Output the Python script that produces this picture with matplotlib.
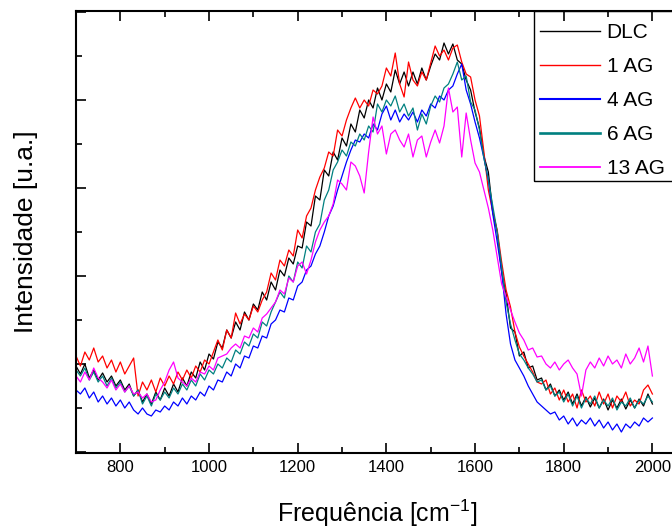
import numpy as np
import matplotlib
matplotlib.use("Agg")
import matplotlib.pyplot as plt
from matplotlib.patches import Rectangle
from matplotlib.ticker import MultipleLocator, NullFormatter

plt.rcParams['font.family'] = ['Liberation Sans', 'DejaVu Sans']
plt.rcParams['mathtext.default'] = 'regular'

# frequência (cm-1), um ponto a cada 10
freq = np.arange(700, 2001, 10)

dlc = [86, 78, 88, 74, 82, 72, 79, 70, 76, 66, 72, 62, 68, 56, 62, 50, 58, 48, 60, 52,
       64, 56, 68, 60, 74, 66, 80, 74, 90, 82, 98, 93, 110, 104, 122, 114, 130, 122, 140, 132,
       148, 142, 160, 152, 170, 162, 182, 176, 194, 188, 206, 204, 230, 226, 256, 252, 282, 276, 300, 292,
       314, 306, 328, 320, 342, 334, 352, 344, 364, 352, 368, 360, 382, 368, 380, 366, 380, 368, 384, 372,
       386, 398, 392, 409, 398, 408, 392, 388, 372, 362, 340, 324, 296, 280, 240, 220, 180, 158, 124, 120,
       96, 100, 84, 86, 72, 74, 62, 68, 56, 62, 52, 60, 48, 58, 46, 55, 45, 54, 44, 53,
       42, 52, 44, 53, 43, 52, 44, 53, 46, 58, 48]

ag1 = [96, 86, 100, 92, 104, 90, 96, 84, 92, 80, 90, 78, 86, 94, 56, 70, 62, 72, 60, 74,
       66, 76, 68, 80, 72, 82, 74, 86, 80, 92, 88, 100, 112, 102, 122, 114, 139, 128, 138, 132,
       146, 140, 152, 160, 179, 172, 192, 186, 202, 196, 222, 214, 236, 244, 262, 275, 284, 300, 296, 322,
       316, 332, 344, 354, 344, 352, 346, 362, 358, 366, 384, 376, 399, 368, 355, 390, 372, 366, 380, 372,
       389, 406, 396, 402, 392, 404, 407, 390, 378, 375, 352, 336, 300, 262, 240, 222, 190, 162, 145, 120,
       105, 96, 88, 80, 70, 68, 72, 58, 64, 52, 62, 50, 58, 44, 62, 50, 56, 46, 60, 48,
       58, 44, 56, 50, 60, 46, 52, 48, 62, 67, 58]

ag4 = [62, 58, 64, 54, 60, 50, 56, 48, 54, 46, 52, 44, 50, 42, 38, 44, 38, 36, 42, 40,
       46, 42, 50, 46, 54, 48, 56, 52, 60, 56, 66, 62, 72, 70, 80, 76, 88, 84, 96, 94,
       106, 104, 116, 114, 128, 132, 142, 140, 154, 152, 166, 170, 182, 186, 198, 206, 220, 236, 246, 262,
       276, 290, 302, 312, 310, 318, 314, 328, 322, 338, 346, 332, 342, 330, 338, 332, 340, 330, 342, 336,
       348, 344, 356, 352, 362, 366, 378, 388, 362, 348, 330, 314, 294, 272, 238, 210, 180, 138, 108, 92,
       84, 76, 66, 58, 50, 46, 42, 38, 40, 32, 36, 28, 34, 26, 32, 28, 34, 26, 32, 24,
       30, 22, 28, 20, 28, 24, 30, 26, 34, 30, 34]

ag6 = [82, 76, 84, 72, 80, 70, 76, 66, 74, 64, 70, 60, 66, 56, 62, 48, 56, 46, 58, 52,
       60, 54, 64, 58, 68, 62, 72, 66, 78, 72, 82, 78, 88, 84, 94, 90, 102, 98, 110, 106,
       118, 114, 130, 126, 140, 150, 160, 154, 176, 170, 190, 184, 206, 200, 220, 228, 252, 262, 282, 290,
       302, 296, 310, 306, 318, 312, 326, 320, 348, 340, 352, 346, 356, 340, 348, 336, 344, 322, 338, 328,
       346, 356, 350, 364, 368, 378, 390, 372, 376, 350, 342, 322, 294, 272, 246, 220, 185, 150, 128, 112,
       98, 92, 84, 78, 70, 72, 62, 66, 56, 60, 50, 58, 46, 56, 44, 54, 48, 56, 44, 52,
       46, 54, 42, 50, 46, 54, 44, 52, 48, 56, 50]

ag13 = [76, 70, 80, 72, 84, 74, 70, 64, 72, 62, 68, 60, 66, 58, 60, 54, 58, 50, 52, 62,
        70, 82, 90, 74, 70, 66, 74, 70, 80, 78, 86, 82, 94, 96, 98, 104, 108, 104, 116, 114,
        124, 120, 134, 138, 144, 150, 162, 158, 174, 170, 186, 190, 178, 192, 210, 222, 230, 236, 248, 272,
        268, 262, 290, 286, 276, 259, 300, 335, 318, 326, 298, 318, 322, 312, 305, 318, 295, 312, 316, 295,
        310, 322, 309, 326, 364, 340, 345, 295, 339, 312, 289, 280, 262, 244, 222, 195, 168, 155, 142, 130,
        119, 112, 102, 104, 95, 96, 88, 84, 90, 82, 88, 92, 84, 78, 56, 82, 90, 84, 94, 86,
        96, 88, 92, 84, 98, 88, 94, 104, 90, 106, 76]

series = [("DLC", dlc, "black"), ("1 AG", ag1, "red"), ("4 AG", ag4, "blue"),
          ("6 AG", ag6, "#008080"), ("13 AG", ag13, "magenta")]

fig = plt.figure(figsize=(6.72, 5.29), dpi=100)
ax = fig.add_axes([76 / 672, 1 - 453 / 529, 603 / 672, 442 / 529])

for nome, y, cor in series:
    ax.plot(freq, y, color=cor, lw=0.9, label=nome)

ax.set_xlim(700, 2060)
ax.set_ylim(-1, 441)
ax.xaxis.set_major_locator(MultipleLocator(200))
ax.xaxis.set_minor_locator(MultipleLocator(100))
ax.yaxis.set_major_locator(MultipleLocator(88))
ax.yaxis.set_minor_locator(MultipleLocator(44))
ax.yaxis.set_major_formatter(NullFormatter())
ax.tick_params(which='both', direction='in', top=True, right=False, width=1.2)
ax.tick_params(which='major', length=7, labelsize=12, pad=5)
ax.tick_params(which='minor', length=4)
for s in ax.spines.values():
    s.set_linewidth(1.5)

ax.set_xlabel('Frequência [cm$^{-1}$]', fontsize=18, labelpad=16)
ax.set_ylabel('Intensidade [u.a.]', fontsize=19, labelpad=22)

# legenda sem moldura + retângulo desenhado à parte
leg = ax.legend(loc='upper left', bbox_to_anchor=(540 / 672, 1 - 23 / 529),
                bbox_transform=fig.transFigure, borderaxespad=0, borderpad=0,
                fontsize=15, handlelength=2.9, handletextpad=0.3,
                labelspacing=0.72, frameon=False)
for h, lw in zip(leg.legend_handles, [1.0, 1.0, 1.5, 1.9, 1.3]):
    h.set_linewidth(lw)
fig.add_artist(Rectangle((534 / 672, 1 - 181 / 529), 0.4, 170 / 529,
                         transform=fig.transFigure, fill=False, ec='black', lw=1.0))

fig.savefig('out.png', dpi=100)
